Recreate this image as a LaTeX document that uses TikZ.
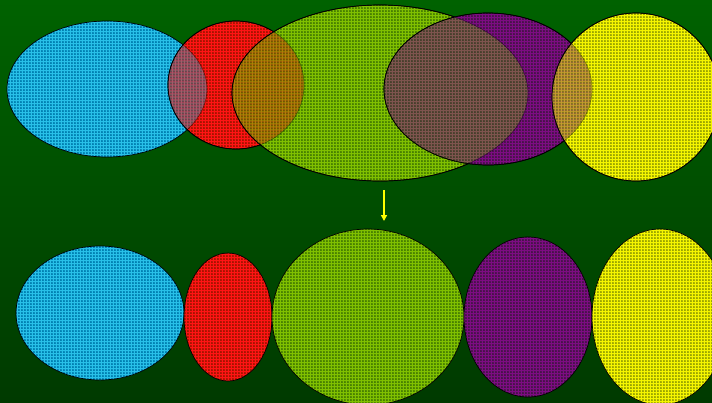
\documentclass[tikz,border=0pt]{standalone}
\usetikzlibrary{patterns,arrows.meta}
\definecolor{bgtop}{RGB}{0,98,0}
\definecolor{bgbot}{RGB}{0,58,0}
\definecolor{cyanF}{RGB}{0,128,178}
\definecolor{cyanL}{RGB}{40,192,232}
\definecolor{redF}{RGB}{165,20,0}
\definecolor{redL}{RGB}{255,20,20}
\definecolor{greenF}{RGB}{72,128,0}
\definecolor{greenL}{RGB}{128,192,0}
\definecolor{purpF}{RGB}{70,20,72}
\definecolor{purpL}{RGB}{125,12,130}
\definecolor{yelF}{RGB}{155,165,0}
\definecolor{yelL}{RGB}{245,245,0}
% woven texture: bright threads over a darker ground
\pgfdeclarepatternformonly{plaid}{\pgfpointorigin}{\pgfqpoint{3.4pt}{3.4pt}}{\pgfqpoint{3.4pt}{3.4pt}}{%
  \pgfsetlinewidth{1.25pt}%
  \pgfpathmoveto{\pgfqpoint{0pt}{1.7pt}}\pgfpathlineto{\pgfqpoint{3.4pt}{1.7pt}}%
  \pgfpathmoveto{\pgfqpoint{1.7pt}{0pt}}\pgfpathlineto{\pgfqpoint{1.7pt}{3.4pt}}%
  \pgfusepath{stroke}}
\tikzset{
  seethrough/.style={transparency group, opacity=0.4},
  plaidfill/.style={pattern=plaid, pattern color=#1},
  rim/.style={draw=black, line width=0.7pt},
  downarrow/.style={draw={rgb,255:red,255;green,255;blue,0}, line width=1.4pt, -{Triangle[length=6pt,width=6pt]}}
}
% textured ellipse: centre, radii, ground colour, thread colour
\newcommand\plaidshape[4]{%
  \fill[fill=#3] #1 ellipse [x radius=#2];
  \fill[plaidfill=#4] #1 ellipse [x radius=#2];
  \draw[rim] #1 ellipse [x radius=#2];
}
% opaque ellipse with a named centre
\newcommand\gridblob[5]{%
  \plaidshape{#2}{#3}{#4}{#5}
  \coordinate (#1) at #2;
}
% lower ellipse showing through the upper one where they overlap
% args: upper centre, upper radii, lower centre, lower radii, lower colours
\newcommand\showthrough[6]{%
  \begin{scope}
    \clip #1 ellipse [x radius=#2];
    \begin{scope}[seethrough]
      \plaidshape{#3}{#4}{#5}{#6}
    \end{scope}
  \end{scope}
  \draw[rim] #1 ellipse [x radius=#2];
}
\begin{document}
\begin{tikzpicture}[x=1bp,y=-1bp]
  \shade[top color=bgtop, bottom color=bgbot] (0,0) rectangle (712,402);
  \useasboundingbox (0,0) rectangle (712,402);
  % overlapping row
  \gridblob{t1}{(107,89)}{100, y radius=68}{cyanF}{cyanL}
  \gridblob{t2}{(236,85)}{68, y radius=64}{redF}{redL}
  \showthrough{(236,85)}{68, y radius=64}{(107,89)}{100, y radius=68}{cyanF}{cyanL}
  \gridblob{t3}{(380,93)}{148, y radius=88}{greenF}{greenL}
  \showthrough{(380,93)}{148, y radius=88}{(236,85)}{68, y radius=64}{redF}{redL}
  \gridblob{t4}{(488,89)}{104, y radius=76}{purpF}{purpL}
  \showthrough{(488,89)}{104, y radius=76}{(380,93)}{148, y radius=88}{greenF}{greenL}
  \gridblob{t5}{(636,97)}{84, y radius=84}{yelF}{yelL}
  \showthrough{(636,97)}{84, y radius=84}{(488,89)}{104, y radius=76}{purpF}{purpL}
  % separated row
  \gridblob{b1}{(100,313)}{84, y radius=67}{cyanF}{cyanL}
  \gridblob{b2}{(228,317)}{44, y radius=64}{redF}{redL}
  \gridblob{b3}{(368,317)}{96, y radius=88}{greenF}{greenL}
  \gridblob{b4}{(528,317)}{64, y radius=80}{purpF}{purpL}
  \gridblob{b5}{(660,317)}{68, y radius=88}{yelF}{yelL}
  \coordinate (a1) at (384,190);
  \coordinate (a2) at (384,221);
  \draw[downarrow] (a1) -- (a2);
\end{tikzpicture}
\end{document}
